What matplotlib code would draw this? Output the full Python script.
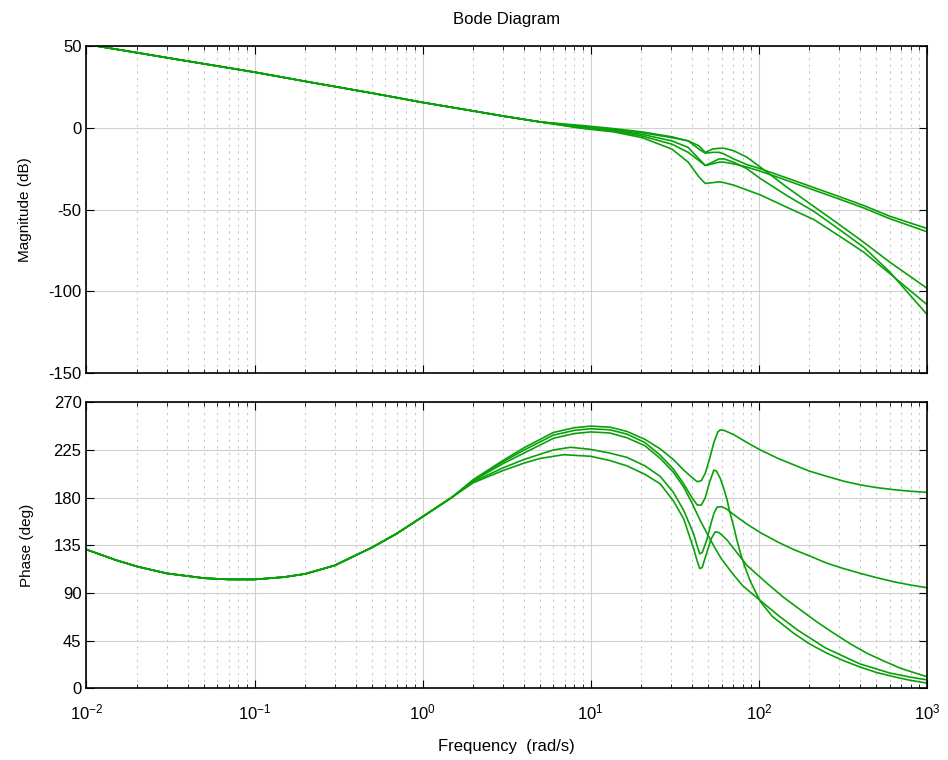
import matplotlib.pyplot as plt
from matplotlib.ticker import LogLocator, NullFormatter

plt.rcParams["font.family"] = ["Liberation Sans", "DejaVu Sans"]
plt.rcParams["axes.unicode_minus"] = False

# values (frequency in rad/s)
w_common = [0.01, 0.02, 0.036, 0.05, 0.1, 0.2, 0.32, 0.5, 1.0, 2.0, 3.0, 5.0]
mag_common = [51, 45.9, 41.5, 39.1, 34, 28.4, 24.7, 21.2, 15.5, 10.3, 7.2, 3.6]

w_mag_tail = [8.66, 13.7, 20.2, 30.4, 38, 44, 48, 53, 58, 62, 70.8, 85, 102, 150, 212, 300, 421, 600, 1000]
mag_a = [1.5, -0.5, -2.5, -5.5, -8, -13, -15.5, -15, -15, -16, -19, -22.5, -25, -31, -36.5, -42, -47.5, -54, -61.5]
mag_c = [0.5, -1.5, -4, -8, -12, -19, -23, -22, -21, -21, -22, -24, -26.5, -32.5, -38, -43.5, -49, -55.5, -63.5]
mag_b = [1.0, -1, -3, -6, -8, -11, -15, -13, -12.5, -12.5, -14, -18, -24, -37, -48, -59, -70, -82, -98]
mag_d = [-0.2, -2.5, -6, -13, -21, -30, -34, -33.5, -33, -33.5, -35, -38, -41, -49, -56, -66, -76, -89, -108]
mag_e = [0, -2, -5, -10, -15, -20, -23, -21, -19, -19, -21, -25, -31, -42, -51, -62, -73, -88, -114]

w_ph_common = [0.01, 0.015, 0.02, 0.03, 0.05, 0.07, 0.1, 0.15, 0.2, 0.3, 0.5, 0.7, 1.0, 1.5]
ph_common = [131, 121, 115, 108.5, 104, 102.8, 102.8, 105, 108, 116, 133, 146, 162, 180.5]

w_ph_a = [2, 3, 4, 6, 8, 10, 13, 16.4, 21, 25.9, 31, 35.7, 40, 43, 45.5, 48, 51, 54, 57, 59, 62,
          70.8, 85, 102, 130, 161, 200, 255, 320, 402, 500, 634, 800, 1000]
ph_a = [197, 215, 227, 241.5, 246, 247.5, 246.5, 242.5, 235, 226, 216, 206, 199, 195, 196, 203, 217, 232, 242, 244, 243.5,
        239.5, 232, 225, 217, 211, 205, 200, 195.5, 192, 189.5, 187.5, 186, 185]

w_ph_b = [2, 3, 4, 6, 8, 10, 13, 16.4, 21, 25.9, 31, 35.7, 40, 43, 45.5, 48, 51, 54, 56, 59, 62, 64.7, 67,
          70.8, 74, 77.6, 82, 89, 102, 120, 161, 200, 255, 320, 402, 500, 634, 800, 1000]
ph_b = [196.5, 213.8, 224.8, 239, 243.5, 245, 244, 240, 232, 220, 207, 193, 180, 173, 173, 180, 195, 206, 205, 198, 188, 178, 167,
        153, 140, 128, 116, 101, 82, 68, 52, 42, 33, 26, 20, 15, 11, 7.5, 5]

w_ph_e = [2, 3, 4, 6, 8, 10, 13, 16.4, 21, 25.9, 31, 35.7, 40, 44.6, 50, 55, 60, 70, 80, 100, 130, 170, 250, 400, 600, 800, 1000]
ph_e = [196, 212, 222, 236, 240.5, 242, 241, 236.5, 229, 217, 204, 190, 175, 159, 144, 132, 122, 108, 97, 84, 69, 55, 38, 23, 14.5, 10.5, 8]

w_ph_c = [2, 3, 4, 6, 7.6, 10, 13, 16.4, 21, 25.9, 31, 35.7, 40.9, 43, 44.5, 46, 49, 52, 54, 56.4, 60, 64.7,
          70.8, 85, 102, 130, 161, 200, 255, 320, 402, 500, 634, 800, 1000]
ph_c = [195, 208, 216, 225, 227.5, 225.5, 222, 218, 210, 200, 185, 168, 146, 134, 127, 128, 140, 156, 165, 171, 171.5, 169,
        164, 155, 147, 138, 131, 125, 118, 113, 108.5, 104.5, 100.6, 97.5, 95]

w_ph_d = [2, 3, 4, 5, 6.9, 10, 13, 16.4, 21, 25.9, 31, 35.7, 40.9, 43, 44.5, 46, 49, 52, 55, 58, 64.7,
          70.8, 85, 112, 140, 177, 220, 279, 350, 441, 550, 695, 850, 1000]
ph_d = [194, 205.5, 212.5, 217, 220.5, 219, 215, 210, 202, 193, 177, 160, 132, 120, 113, 114, 128, 141, 147.7, 147, 140,
        132, 116, 99, 86, 74, 63, 52, 42, 33, 26, 19, 14.5, 11]

green = "#0aa00a"

fig = plt.figure(figsize=(9.48, 7.6), dpi=100)
ax1 = fig.add_axes([0.0912, 0.5088, 0.8866, 0.4307])
ax2 = fig.add_axes([0.0912, 0.0943, 0.8866, 0.3764])

for mag in [mag_a, mag_c, mag_b, mag_d, mag_e]:
    ax1.semilogx(w_common + w_mag_tail, mag_common + mag, color=green, lw=1.2)

for w, ph in [(w_ph_a, ph_a), (w_ph_b, ph_b), (w_ph_e, ph_e), (w_ph_c, ph_c), (w_ph_d, ph_d)]:
    ax2.semilogx(w_ph_common + w, ph_common + ph, color=green, lw=1.2)

for ax in (ax1, ax2):
    ax.set_xlim(1e-2, 1e3)
    ax.xaxis.set_major_locator(LogLocator(base=10, numticks=10))
    ax.xaxis.set_minor_locator(LogLocator(base=10, subs=range(2, 10), numticks=20))
    ax.xaxis.set_minor_formatter(NullFormatter())
    ax.grid(True, which="major", color="#d0d0d0", lw=0.8)
    ax.grid(True, which="minor", axis="x", color="#c8c8c8", lw=0.8, linestyle=(0, (2, 4)))
    ax.tick_params(which="both", direction="in", top=True, right=True, labelsize=12)
    ax.tick_params(which="major", length=6)
    ax.tick_params(which="minor", length=3)
    ax.tick_params(axis="x", pad=10)
    for s in ax.spines.values():
        s.set_linewidth(1.2)

ax1.set_ylim(-150, 50)
ax1.set_yticks([50, 0, -50, -100, -150])
ax1.set_yticklabels(["50", "0", "-50", "-100", "-150"])
ax1.tick_params(labelbottom=False)
ax1.set_ylabel("Magnitude (dB)", fontsize=11, labelpad=12)
ax1.set_title("Bode Diagram", fontsize=12, pad=16)

ax2.set_ylim(0, 270)
ax2.set_yticks([0, 45, 90, 135, 180, 225, 270])
ax2.set_ylabel("Phase (deg)", fontsize=11, labelpad=14)
ax2.set_xlabel("Frequency  (rad/s)", fontsize=12, labelpad=12)

fig.savefig("out.png", dpi=100)
